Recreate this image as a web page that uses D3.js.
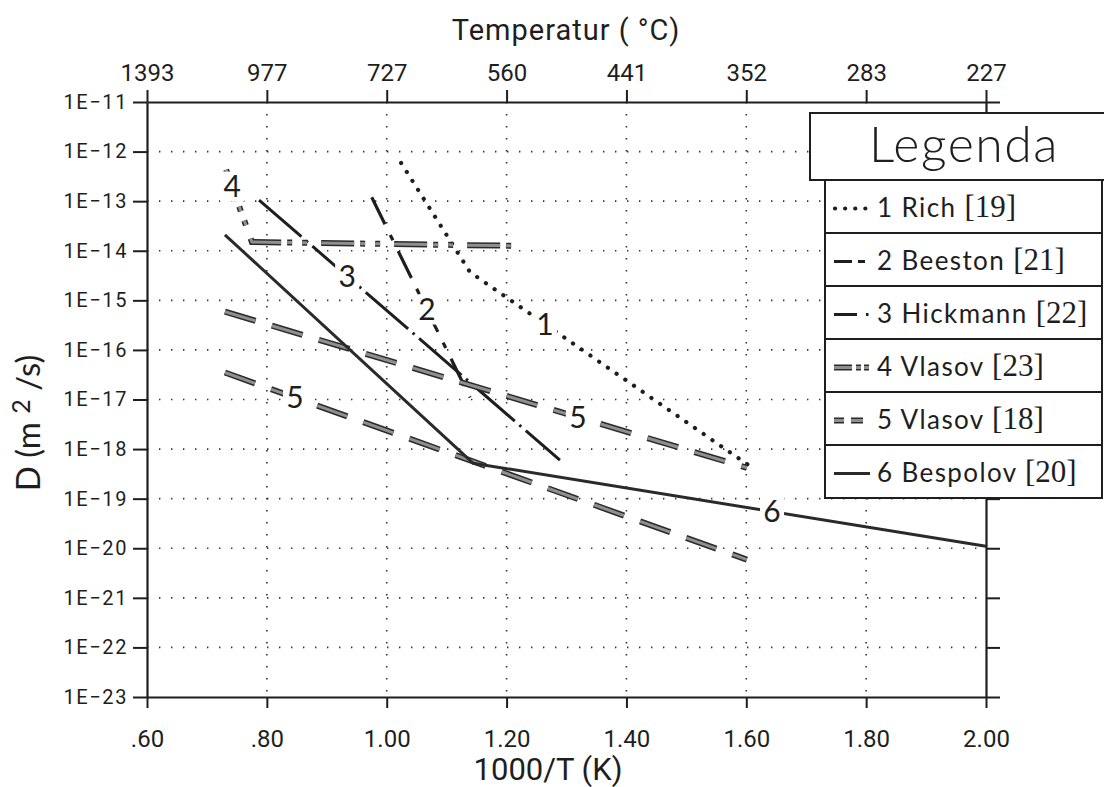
<!DOCTYPE html>
<html>
<head>
<meta charset="utf-8">
<script src="https://cdn.jsdelivr.net/npm/d3@7"></script>
<style>
  html, body { margin: 0; padding: 0; background: #fff; }
  svg { display: block; }
</style>
</head>
<body>
<svg id="chart" width="1104" height="787"></svg>
<script>
// ---- axis ticks ----
const xTicks = [0.6, 0.8, 1.0, 1.2, 1.4, 1.6, 1.8, 2.0];
const xTickLabels = [".60", ".80", "1.00", "1.20", "1.40", "1.60", "1.80", "2.00"];
const tempTickLabels = ["1393", "977", "727", "560", "441", "352", "283", "227"];
const yTicks = [1e-11, 1e-12, 1e-13, 1e-14, 1e-15, 1e-16, 1e-17, 1e-18, 1e-19, 1e-20, 1e-21, 1e-22, 1e-23];
const yTickLabels = ["1E−11", "1E−12", "1E−13", "1E−14", "1E−15", "1E−16", "1E−17", "1E−18", "1E−19", "1E−20", "1E−21", "1E−22", "1E−23"];

// ---- diffusion coefficient curves: 1000/T (1/K) and D (m²/s) ----
const richX = [1.024, 1.139, 1.603];
const richD = [5.9e-13, 3.7e-15, 4.8e-19];
const beestonX = [0.975, 1.139];
const beestonD = [1.2e-13, 1.1e-17];
const hickmannX = [0.787, 1.289];
const hickmannD = [1.05e-13, 6.0e-19];
const vlasov23X = [0.732, 0.775, 1.209];
const vlasov23D = [4.3e-13, 1.5e-14, 1.26e-14];
const vlasov18aX = [0.730, 1.601];
const vlasov18aD = [5.9e-16, 4.2e-19];
const vlasov18bX = [0.730, 1.601];
const vlasov18bD = [3.5e-17, 5.9e-21];
const bespolovX = [0.730, 1.144, 2.00];
const bespolovD = [2.1e-14, 5.2e-19, 1.1e-20];

// curve number labels: text and the 1000/T value where each sits on its curve
const curveLabels = ["1", "2", "3", "4", "5", "5", "6"];
const curveLabelX = [1.264, 1.067, 0.934, 0.742, 1.319, 0.847, 1.643];

// legend entries
const legendNums = ["1", "2", "3", "4", "5", "6"];
const legendNames = ["Rich", "Beeston", "Hickmann", "Vlasov", "Vlasov", "Bespolov"];
const legendRefs = ["[19]", "[21]", "[22]", "[23]", "[18]", "[20]"];

// ---- layout ----
const svg = d3.select("#chart");
const x = d3.scaleLinear().domain([0.6, 2.0]).range([147, 986]);
const y = d3.scaleLog().domain([1e-23, 1e-11]).range([697, 102]);

const tickFont = "Roboto, 'DejaVu Sans Condensed', sans-serif";
const labelFont = "Lato, 'Noto Sans', sans-serif";
const ink = "#1e1e1e";

// line styles for the curves (index matches series order below)
const styles = [
  { dash: "0.1,10.5", width: 4.2, cap: "round", color: ink },                    // 1 Rich
  { dash: "30,12,6,12", width: 3.2, cap: "butt", color: ink },                  // 2 Beeston
  { dash: "56,6,2.5,6", width: 3.0, cap: "butt", color: ink },                  // 3 Hickmann
  { dash: "33,6,5,10,5,14", width: 4.4, cap: "butt", color: "#8f8f8f", edge: true }, // 4 Vlasov [23]
  { dash: "32,17", width: 4.4, cap: "butt", color: "#8f8f8f", edge: true },     // 5 Vlasov [18]
  { dash: null, width: 3.0, cap: "butt", color: "#2a2a2a" }                     // 6 Bespolov
];

const series = [
  { xs: richX, ds: richD, style: 0 },
  { xs: beestonX, ds: beestonD, style: 1 },
  { xs: hickmannX, ds: hickmannD, style: 2 },
  { xs: vlasov23X, ds: vlasov23D, style: 3 },
  { xs: vlasov18aX, ds: vlasov18aD, style: 4 },
  { xs: vlasov18bX, ds: vlasov18bD, style: 4 },
  { xs: bespolovX, ds: bespolovD, style: 5 }
];

// ---- grid (dotted) ----
const grid = svg.append("g").attr("stroke", "#333").attr("stroke-width", 1.6)
  .attr("stroke-dasharray", "1.4,10.6").attr("fill", "none");
xTicks.slice(1, -1).forEach(v => {
  grid.append("line").attr("x1", x(v)).attr("x2", x(v)).attr("y1", y(1e-11)).attr("y2", y(1e-23));
});
yTicks.slice(1, -1).forEach(v => {
  grid.append("line").attr("x1", x(0.6)).attr("x2", x(2.0)).attr("y1", y(v)).attr("y2", y(v));
});

// ---- axes ----
function styleAxis(g) {
  g.select(".domain").attr("stroke", ink).attr("stroke-width", 2.2);
  g.selectAll(".tick line").attr("stroke", ink).attr("stroke-width", 2);
  g.selectAll(".tick text").attr("fill", ink).attr("font-family", tickFont);
}

svg.append("g").attr("transform", `translate(0,${y(1e-23)})`)
  .call(d3.axisBottom(x).tickValues(xTicks).tickFormat((d, i) => xTickLabels[i])
    .tickSize(11).tickSizeOuter(0).tickPadding(22))
  .call(styleAxis)
  .call(g => g.selectAll(".tick text").attr("font-size", 24));

svg.append("g").attr("transform", `translate(0,${y(1e-11)})`)
  .call(d3.axisTop(x).tickValues(xTicks).tickFormat((d, i) => tempTickLabels[i])
    .tickSize(12).tickSizeOuter(0).tickPadding(9))
  .call(styleAxis)
  .call(g => g.selectAll(".tick text").attr("font-size", 24));

svg.append("g").attr("transform", `translate(${x(0.6)},0)`)
  .call(d3.axisLeft(y).tickValues(yTicks).tickFormat((d, i) => yTickLabels[i])
    .tickSize(14).tickSizeOuter(0).tickPadding(5))
  .call(styleAxis)
  .call(g => g.selectAll(".tick text").attr("font-size", 20).attr("letter-spacing", 1.6));

svg.append("g").attr("transform", `translate(${x(2.0)},0)`)
  .call(d3.axisRight(y).tickValues(yTicks).tickFormat("").tickSize(14).tickSizeOuter(0))
  .call(styleAxis);

// ---- axis titles ----
svg.append("text").attr("x", 566).attr("y", 40).attr("text-anchor", "middle")
  .attr("font-family", tickFont).attr("font-size", 29).attr("letter-spacing", 1).attr("fill", ink)
  .text("Temperatur ( °C)");

svg.append("text").attr("x", 548).attr("y", 780).attr("text-anchor", "middle")
  .attr("font-family", tickFont).attr("font-size", 31).attr("fill", ink)
  .text("1000/T (K)");

const yTitle = svg.append("text")
  .attr("transform", "translate(40,423) rotate(-90)")
  .attr("text-anchor", "middle")
  .attr("font-family", labelFont).attr("font-size", 33).attr("fill", ink);
yTitle.append("tspan").text("D (m ");
yTitle.append("tspan").attr("font-size", 25).attr("dy", -10).text("2");
yTitle.append("tspan").attr("dy", 10).text(" /s)");

// ---- curves ----
const line = d3.line().x(d => x(d[0])).y(d => y(d[1]));
const curveG = svg.append("g").attr("fill", "none");

function drawPath(g, pts, st) {
  if (st.edge) {
    g.append("path").attr("d", line(pts)).attr("stroke", "#2a2a2a")
      .attr("stroke-width", st.width + 1.6).attr("stroke-dasharray", st.dash)
      .attr("stroke-linecap", st.cap);
  }
  g.append("path").attr("d", line(pts)).attr("stroke", st.color)
    .attr("stroke-width", st.edge ? st.width - 1.4 : st.width)
    .attr("stroke-dasharray", st.dash).attr("stroke-linecap", st.cap)
    .attr("stroke-linejoin", "round");
}

series.forEach(s => {
  const pts = s.xs.map((v, i) => [v, s.ds[i]]);
  drawPath(curveG, pts, styles[s.style]);
});

// ---- curve number labels ----
function interpLog(xs, ds, xv) {
  for (let i = 0; i < xs.length - 1; i++) {
    if (xv >= xs[i] && xv <= xs[i + 1]) {
      const t = (xv - xs[i]) / (xs[i + 1] - xs[i]);
      return Math.pow(10, Math.log10(ds[i]) + t * (Math.log10(ds[i + 1]) - Math.log10(ds[i])));
    }
  }
  return ds[ds.length - 1];
}
const labG = svg.append("g");
curveLabels.forEach((t, i) => {
  const s = series[i];
  const px = x(curveLabelX[i]);
  const py = y(interpLog(s.xs, s.ds, curveLabelX[i]));
  labG.append("rect").attr("x", px - 12).attr("y", py - 15).attr("width", 24).attr("height", 30)
    .attr("fill", "#fff");
  labG.append("text").attr("x", px).attr("y", py).attr("dy", "0.36em")
    .attr("text-anchor", "middle").attr("font-family", labelFont)
    .attr("font-size", 30).attr("fill", ink).text(t);
});

// ---- legend ----
const leg = svg.append("g");
leg.append("rect").attr("x", 810).attr("y", 113).attr("width", 310).attr("height", 67)
  .attr("fill", "#fff").attr("stroke", ink).attr("stroke-width", 2);
leg.append("text").attr("x", 964).attr("y", 162).attr("text-anchor", "middle")
  .attr("font-family", labelFont).attr("font-size", 50).attr("font-weight", 300)
  .attr("letter-spacing", 1.5).attr("fill", ink).text("Legenda");

const rowH = 53, rowTop = 180, boxX = 825, boxW = 277;
leg.append("rect").attr("x", boxX).attr("y", rowTop).attr("width", boxW).attr("height", rowH * 6)
  .attr("fill", "#fff").attr("stroke", ink).attr("stroke-width", 2);

// short dash patterns used in the legend swatches
const legendDash = ["0.1,10", "18,6,7,20", "23,9,2.5,20", "18,4,5,3,5,20", "10,7,12,20", null];
legendNums.forEach((n, i) => {
  const cy = rowTop + rowH * i + rowH / 2;
  if (i > 0) {
    leg.append("line").attr("x1", boxX).attr("x2", boxX + boxW)
      .attr("y1", rowTop + rowH * i).attr("y2", rowTop + rowH * i)
      .attr("stroke", ink).attr("stroke-width", 2);
  }
  const st = Object.assign({}, styles[i], { dash: legendDash[i] });
  const sw = d3.line();
  const swPts = i === 0 ? [[835, cy + 2], [872, cy + 2]] : [[834, cy + 2], [870, cy + 2]];
  if (st.edge) {
    leg.append("path").attr("d", sw(swPts)).attr("stroke", "#2a2a2a").attr("fill", "none")
      .attr("stroke-width", st.width + 1.6).attr("stroke-dasharray", st.dash);
  }
  leg.append("path").attr("d", sw(swPts)).attr("fill", "none").attr("stroke", st.color)
    .attr("stroke-width", st.edge ? st.width - 1.4 : st.width)
    .attr("stroke-dasharray", st.dash).attr("stroke-linecap", st.cap);

  const tx = leg.append("text").attr("x", 877).attr("y", cy + 10)
    .attr("font-family", labelFont).attr("font-size", 26).attr("fill", ink);
  tx.append("tspan").attr("letter-spacing", 1.4).text(`${n} ${legendNames[i]} `);
  tx.append("tspan").attr("font-family", "'Liberation Serif', serif").attr("font-size", 31)
    .text(legendRefs[i]);
});
</script>
</body>
</html>
